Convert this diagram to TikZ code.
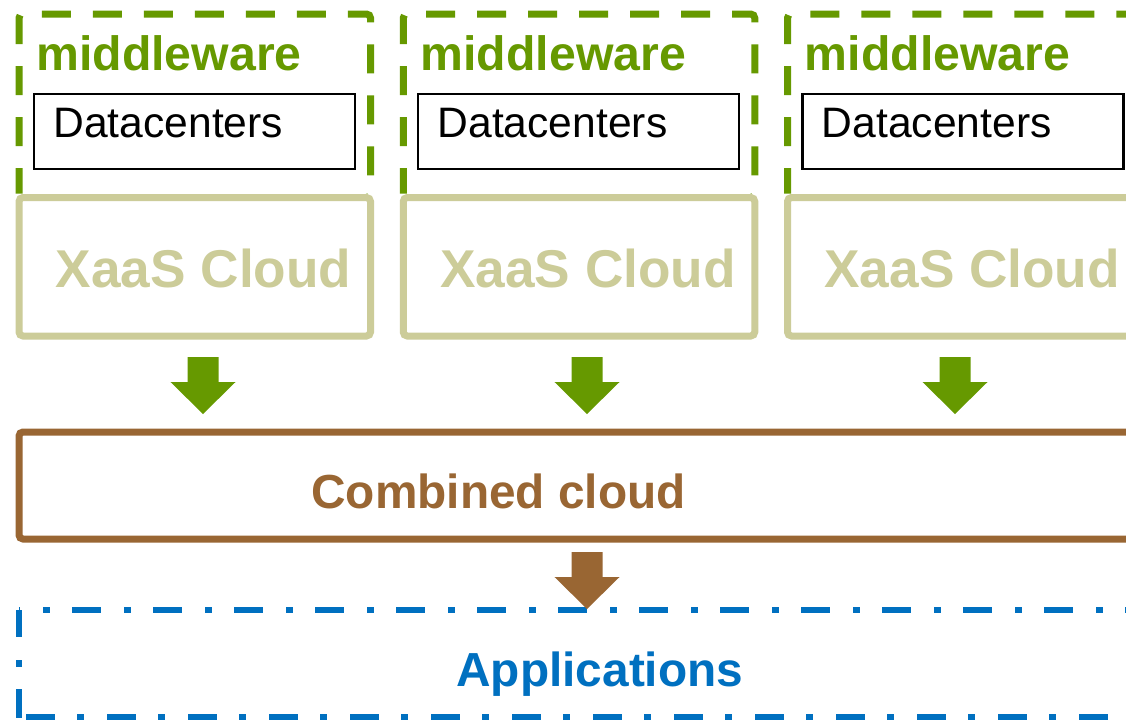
\documentclass[tikz,border=0pt]{standalone}
\usepackage{fontspec}
\setmainfont{Liberation Sans}
\definecolor{mwgreen}{HTML}{669900}
\definecolor{xaascol}{HTML}{CCCC99}
\definecolor{combcol}{HTML}{996633}
\definecolor{appcol}{HTML}{0070C0}
\tikzset{
  mwbox/.style={draw=mwgreen, line width=3.5pt, rounded corners=2pt,
    dash pattern=on 14.5pt off 11pt, dash phase=1.75pt},
  xaasbox/.style={draw=xaascol, fill=white, line width=3.5pt, rounded corners=2pt},
  dcbox/.style={draw=black, line width=1.2pt},
  combbox/.style={draw=combcol, line width=3.5pt, rounded corners=2pt},
  appline/.style={draw=appcol, line width=3pt},
  mwtext/.style={anchor=base west, inner sep=0pt, text=mwgreen, font=\bfseries\fontsize{24.1}{28}\selectfont},
  dctext/.style={anchor=base west, inner sep=0pt, text=black, font=\fontsize{21.3}{25}\selectfont},
  xaastext/.style={anchor=base west, inner sep=0pt, text=xaascol, font=\bfseries\fontsize{26.6}{31}\selectfont},
  bigtext/.style={anchor=base west, inner sep=0pt, font=\bfseries\fontsize{23.9}{28}\selectfont},
  pics/blockarrow/.style={code={
    \fill[#1] (-15.5,0) -- (15.5,0) -- (15.5,25) -- (32.5,25) -- (0,57)
      -- (-32.5,25) -- (-15.5,25) -- cycle;}}
}
\begin{document}
\begin{tikzpicture}[x=0.5pt,y=-0.5pt]
\useasboundingbox (0,0) rectangle (1126,720);
\clip (0,0) rectangle (1126,720);
\fill[white] (0,0) rectangle (1126,720);
% three middleware / XaaS columns
\foreach \i/\x in {1/19,2/403.25,3/787.5}{
  \draw[mwbox] (\x,197.5) -- (\x,14) -- (\x+351.5,14) -- (\x+351.5,197.5) -- cycle;
  \draw[xaasbox] (\x,197.5) rectangle (\x+351.5,336);
  \draw[dcbox] (\x+15,94) rectangle (\x+336,169);
  \node[mwtext] (mw\i) at (\x+17,70) {middleware};
  \node[dctext] (dc\i) at (\x+34,137) {Datacenters};
  \node[xaastext] (xa\i) at (\x+36.5,287) {XaaS Cloud};
}
% combined cloud
\draw[combbox] (19,432) rectangle (1200,539);
\node[bigtext, text=combcol] (comb) at (311,508) {Combined cloud};
% applications (dash-dot)
\draw[appline, dash pattern=on 14.5pt off 11.5pt on 3.5pt off 11pt, dash phase=14pt] (19,610) -- (1200,610);
\draw[appline, dash pattern=on 14.5pt off 11.5pt on 3.5pt off 11pt, dash phase=1pt] (19,610) -- (19,720);
\draw[appline, dash pattern=on 14.5pt off 11pt on 3.5pt off 11.5pt, dash phase=37pt] (19,717) -- (1200,717);
\node[bigtext, text=appcol] (app) at (456,686) {Applications};
% block arrows
\path (203,357) pic {blockarrow=mwgreen};
\path (587,357) pic {blockarrow=mwgreen};
\path (955,357) pic {blockarrow=mwgreen};
\path (587,552) pic {blockarrow=combcol};
\end{tikzpicture}
\end{document}
